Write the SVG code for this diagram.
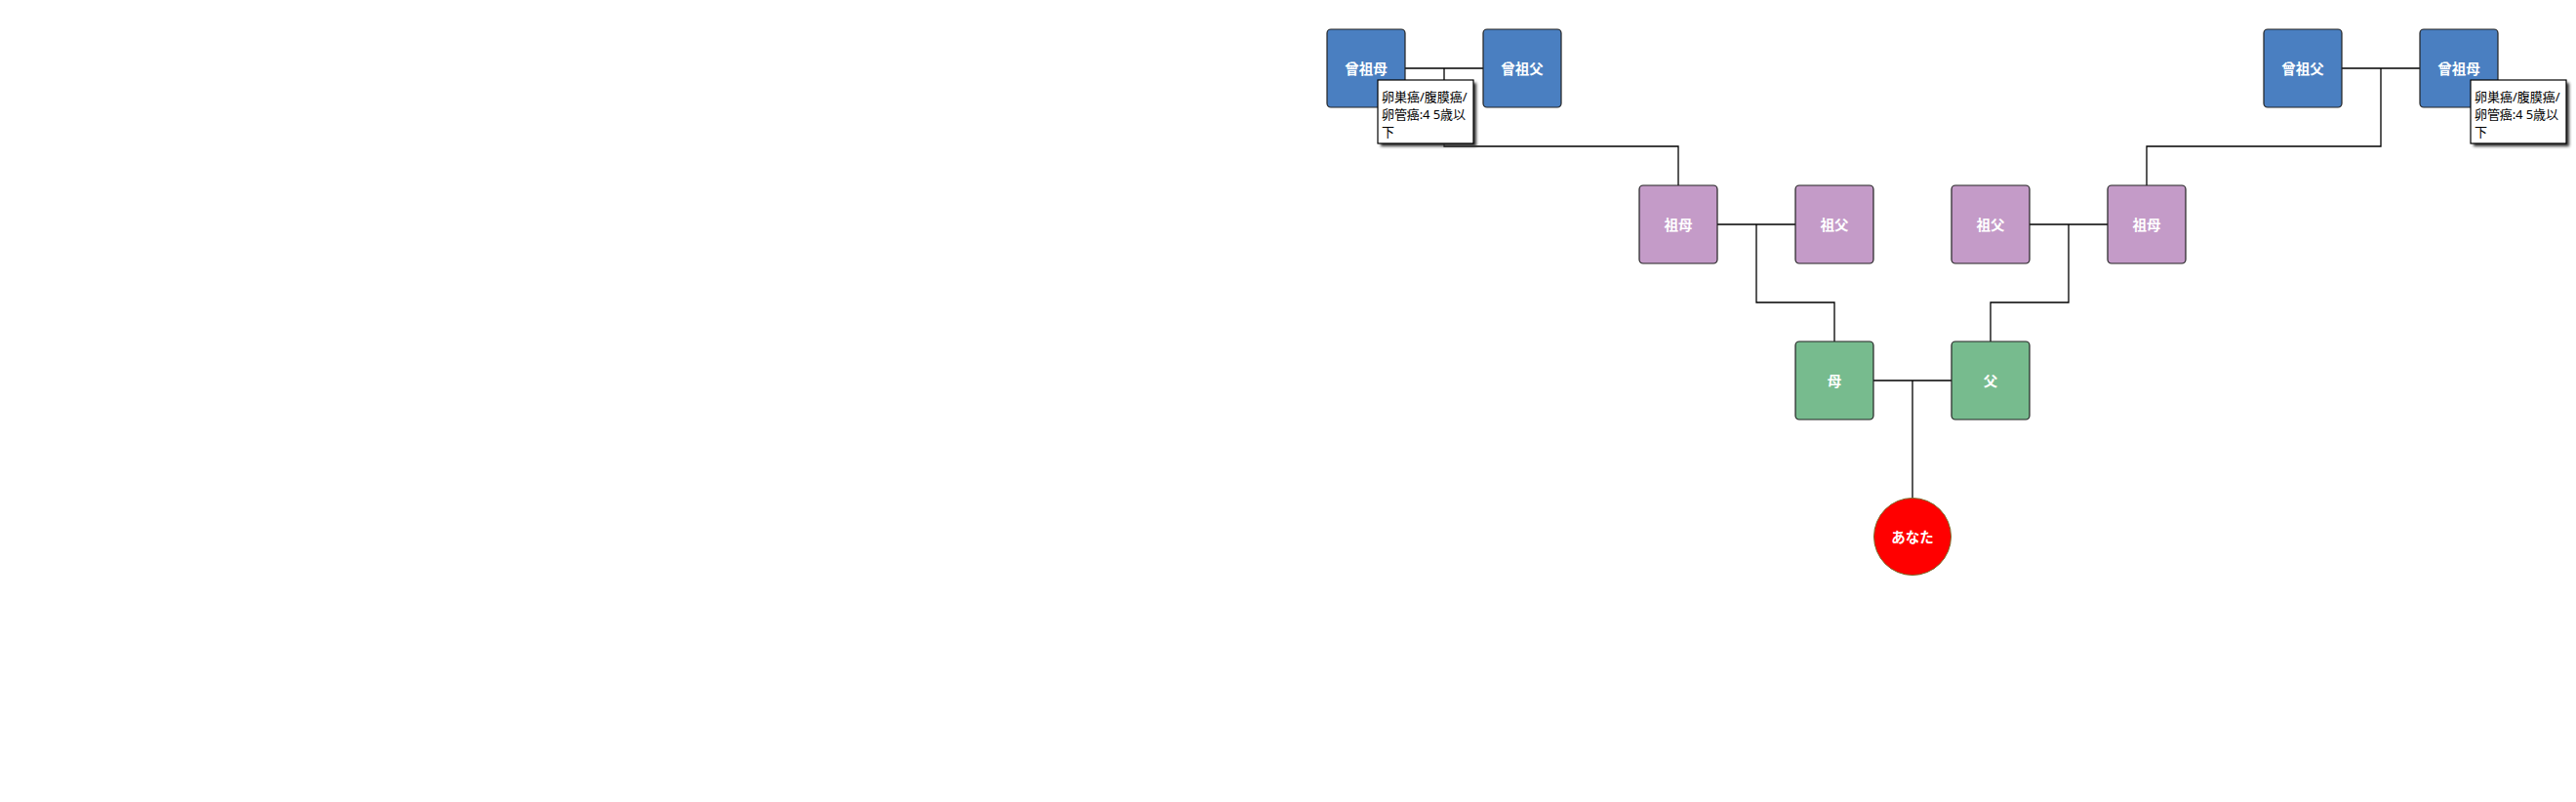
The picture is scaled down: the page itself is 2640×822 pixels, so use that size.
<svg xmlns="http://www.w3.org/2000/svg" width="2640" height="822" viewBox="0 0 2640 822">
<defs>
<style>
.node{stroke:#222;stroke-width:1.2}
.blue{fill:#4a7fc1}
.purple{fill:#c49bc8}
.green{fill:#77bb8e}
.lbl{fill:#fff;font-family:"Noto Sans","Noto Sans CJK JP",sans-serif;font-size:14.5px;font-weight:bold;text-anchor:middle}
.conn{fill:none;stroke:#000;stroke-width:1.3}
.tip{fill:#fff;stroke:#000;stroke-width:1.2}
.tiptext{fill:#000;font-family:"Noto Sans","Noto Sans CJK JP",sans-serif;font-size:13px}
</style>
<filter id="shadow" x="-20%" y="-20%" width="150%" height="150%">
<feGaussianBlur stdDeviation="1.5"/>
</filter>
</defs>
<rect width="2640" height="822" fill="#fff"/>
<g id="connectors">
<path class="conn" d="M1440 70H1520M1480 70V150H1720V190"/>
<path class="conn" d="M2400 70H2480M2440 70V150H2200V190"/>
<path class="conn" d="M1760 230H1840M1800 230V310H1880V350"/>
<path class="conn" d="M2080 230H2160M2120 230V310H2040V350"/>
<path class="conn" d="M1920 390H2000M1960 390V510"/>
</g>
<g id="ggm-left">
<rect class="node blue" x="1360" y="30" width="80" height="80" rx="4"/>
<text class="lbl" x="1400" y="76">曾祖母</text>
</g>
<g id="ggf-left">
<rect class="node blue" x="1520" y="30" width="80" height="80" rx="4"/>
<text class="lbl" x="1560" y="76">曾祖父</text>
</g>
<g id="ggf-right">
<rect class="node blue" x="2320" y="30" width="80" height="80" rx="4"/>
<text class="lbl" x="2360" y="76">曾祖父</text>
</g>
<g id="ggm-right">
<rect class="node blue" x="2480" y="30" width="80" height="80" rx="4"/>
<text class="lbl" x="2520" y="76">曾祖母</text>
</g>
<g id="gm-left">
<rect class="node purple" x="1680" y="190" width="80" height="80" rx="4"/>
<text class="lbl" x="1720" y="236">祖母</text>
</g>
<g id="gf-left">
<rect class="node purple" x="1840" y="190" width="80" height="80" rx="4"/>
<text class="lbl" x="1880" y="236">祖父</text>
</g>
<g id="gf-right">
<rect class="node purple" x="2000" y="190" width="80" height="80" rx="4"/>
<text class="lbl" x="2040" y="236">祖父</text>
</g>
<g id="gm-right">
<rect class="node purple" x="2160" y="190" width="80" height="80" rx="4"/>
<text class="lbl" x="2200" y="236">祖母</text>
</g>
<g id="mother">
<rect class="node green" x="1840" y="350" width="80" height="80" rx="4"/>
<text class="lbl" x="1880" y="396">母</text>
</g>
<g id="father">
<rect class="node green" x="2000" y="350" width="80" height="80" rx="4"/>
<text class="lbl" x="2040" y="396">父</text>
</g>
<g id="you">
<circle cx="1960" cy="550" r="39.5" fill="#ff0000" stroke="#7a6a2a" stroke-width="1"/>
<text class="lbl" x="1960" y="556">あなた</text>
</g>
<g id="note-left">
<rect x="1415" y="85" width="98" height="65" fill="#333" filter="url(#shadow)"/>
<rect class="tip" x="1412" y="82" width="98" height="65"/>
<text class="tiptext" x="1416" y="104">卵巣癌/腹膜癌/</text>
<text class="tiptext" x="1416" y="122" textLength="86" lengthAdjust="spacing">卵管癌:4 5歳以</text>
<text class="tiptext" x="1416" y="140">下</text>
</g>
<g id="note-right">
<rect x="2535" y="85" width="98" height="65" fill="#333" filter="url(#shadow)"/>
<rect class="tip" x="2532" y="82" width="98" height="65"/>
<text class="tiptext" x="2536" y="104">卵巣癌/腹膜癌/</text>
<text class="tiptext" x="2536" y="122" textLength="86" lengthAdjust="spacing">卵管癌:4 5歳以</text>
<text class="tiptext" x="2536" y="140">下</text>
</g>
</svg>
